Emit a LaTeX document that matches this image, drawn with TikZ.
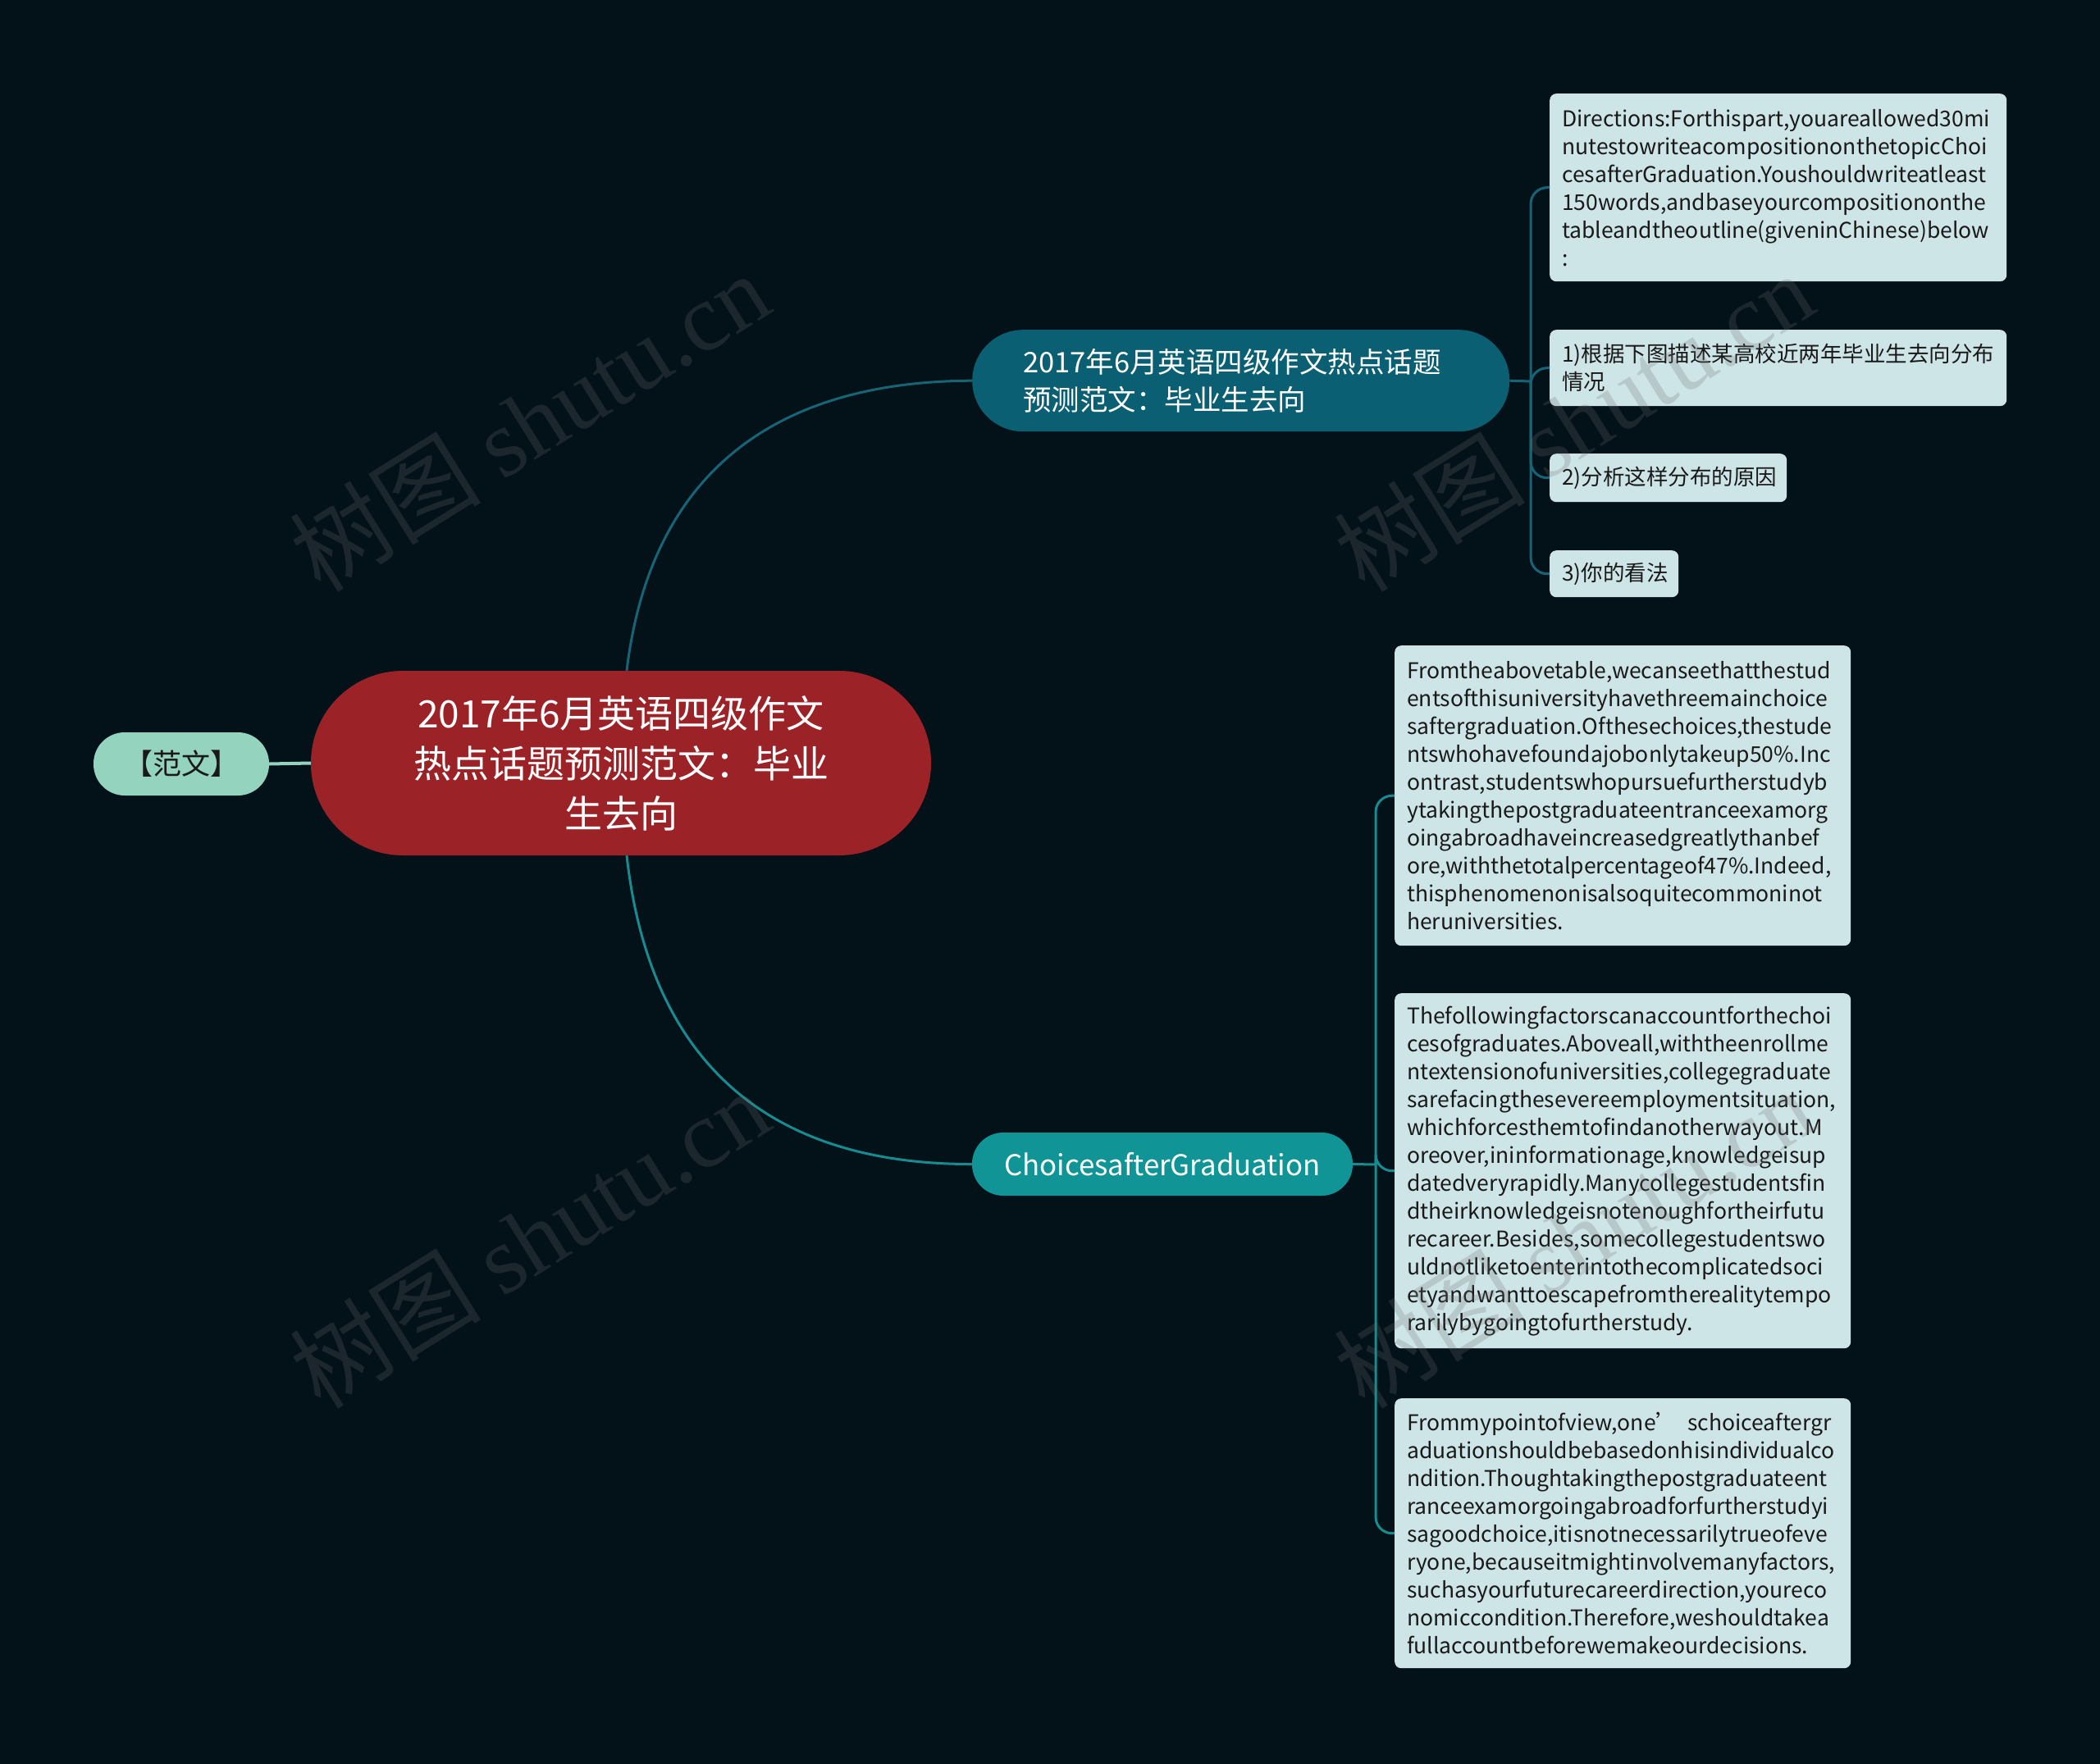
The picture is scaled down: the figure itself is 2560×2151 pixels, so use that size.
\documentclass[tikz,border=0pt]{standalone}
\usepackage{fontspec}
\setmainfont{Noto Sans CJK SC}
\newfontfamily\wmfont{Liberation Serif}
\newfontfamily\wmcjk{Noto Sans CJK SC}
\definecolor{bgc}{RGB}{3,17,25}
\definecolor{rootc}{RGB}{155,34,38}
\definecolor{mintc}{RGB}{148,211,190}
\definecolor{topc}{RGB}{11,95,115}
\definecolor{botc}{RGB}{16,148,150}
\definecolor{leafc}{RGB}{206,229,232}
\definecolor{leaftext}{RGB}{25,25,25}
\definecolor{linetop}{RGB}{22,100,118}
\definecolor{linebot}{RGB}{22,140,145}
\definecolor{wmc}{RGB}{110,110,110}
\tikzset{
  leaf/.style={fill=leafc, rounded corners=8pt, anchor=north west, inner xsep=15pt, inner ysep=0pt,
    align=left, font=\fontsize{26.5}{34}\selectfont, text=leaftext},
  ctop/.style={draw=linetop, line width=3pt},
  cbot/.style={draw=linebot, line width=3pt},
  wm/.style={text=wmc, opacity=0.24, rotate=32, font=\fontsize{117}{117}\selectfont}
}
\begin{document}
\begin{tikzpicture}[x=1pt,y=-1pt]
\fill[bgc] (0,0) rectangle (2560,2151);
\useasboundingbox (0,0) rectangle (2560,2151);

% root
\node[fill=rootc, rounded corners=112pt, minimum width=756pt, minimum height=225pt, inner sep=0pt,
  text=white, align=center, font=\fontsize{46}{61}\selectfont] (root) at (757,930.5)
  {2017年6月英语四级作文\\热点话题预测范文：毕业\\生去向};

% fanwen
\node[fill=mintc, rounded corners=38pt, minimum width=214pt, minimum height=77pt, inner sep=0pt,
  text=leaftext, font=\fontsize{35}{40}\selectfont] (fw) at (221,931.5) {【范文】};

% top branch
\node[fill=topc, rounded corners=62pt, anchor=north west, minimum width=655pt, minimum height=124pt,
  inner xsep=62pt, inner ysep=0pt, text width=531pt, align=left, text=white,
  font=\fontsize{34.5}{46}\selectfont] (tb) at (1185,402)
  {2017年6月英语四级作文热点话题\\预测范文：毕业生去向};

% bottom branch
\node[fill=botc, rounded corners=38pt, minimum width=464pt, minimum height=77pt, inner sep=0pt,
  text=white, font=\fontsize{34.8}{40}\selectfont] (cb) at (1417,1419.5) {ChoicesafterGraduation};

% leaves top
\node[leaf, minimum height=229pt, text width=527pt] (d0) at (1889,114)
  {Directions:Forthispart,youareallowed30mi\\nutestowriteacompositiononthetopicChoi\\cesafterGraduation.Youshouldwriteatleast\\150words,andbaseyourcompositiononthe\\tableandtheoutline(giveninChinese)below\\:};
\node[leaf, minimum height=93pt, text width=527pt] (d1) at (1889,402)
  {1)根据下图描述某高校近两年毕业生去向分布\\情况};
\node[leaf, minimum height=59pt, text width=259pt] (d2) at (1889,553) {2)分析这样分布的原因};
\node[leaf, minimum height=57pt, text width=127pt] (d3) at (1889,671) {3)你的看法};

% leaves bottom
\node[leaf, minimum height=366pt, text width=526pt] (e1) at (1700,787)
  {Fromtheabovetable,wecanseethatthestud\\entsofthisuniversityhavethreemainchoice\\saftergraduation.Ofthesechoices,thestude\\ntswhohavefoundajobonlytakeup50\%.Inc\\ontrast,studentswhopursuefurtherstudyb\\ytakingthepostgraduateentranceexamorg\\oingabroadhaveincreasedgreatlythanbef\\ore,withthetotalpercentageof47\%.Indeed,\\thisphenomenonisalsoquitecommoninot\\heruniversities.};
\node[leaf, minimum height=433pt, text width=526pt] (e2) at (1700,1211)
  {Thefollowingfactorscanaccountforthechoi\\cesofgraduates.Aboveall,withtheenrollme\\ntextensionofuniversities,collegegraduate\\sarefacingthesevereemploymentsituation,\\whichforcesthemtofindanotherwayout.M\\oreover,ininformationage,knowledgeisup\\datedveryrapidly.Manycollegestudentsfin\\dtheirknowledgeisnotenoughfortheirfutu\\recareer.Besides,somecollegestudentswo\\uldnotliketoenterintothecomplicatedsoci\\etyandwanttoescapefromtherealitytempo\\rarilybygoingtofurtherstudy.};
\node[leaf, minimum height=329pt, text width=526pt] (e3) at (1700,1705)
  {Frommypointofview,one’\hspace{12pt}schoiceaftergr\\aduationshouldbebasedonhisindividualco\\ndition.Thoughtakingthepostgraduateent\\ranceexamorgoingabroadforfurtherstudyi\\sagoodchoice,itisnotnecessarilytrueofeve\\ryone,becauseitmightinvolvemanyfactors,\\suchasyourfuturecareerdirection,youreco\\nomiccondition.Therefore,weshouldtakea\\fullaccountbeforewemakeourdecisions.};

% connectors
\draw[draw=mintc, line width=4pt] (fw.east) -- (root.west);
\draw[ctop] ([xshift=7pt]root.north) .. controls (790,600) and (920,465) .. (tb.west);
\draw[cbot] ([xshift=7pt]root.south) .. controls (790,1278) and (920,1420) .. (cb.west);
\coordinate (s1) at (1866,465);
\coordinate (s2) at (1677,1420);
\draw[ctop] (tb.east) -- (s1);
\foreach \n in {d0,d1,d2,d3} \draw[ctop, rounded corners=20pt] (s1) |- (\n.west);
\draw[cbot] (cb.east) -- (s2);
\foreach \n in {e1,e2,e3} \draw[cbot, rounded corners=20pt] (s2) |- (\n.west);

% watermarks
\node[wm] (w1) at (645,514) {\wmcjk 树图\ \wmfont shutu.cn};
\node[wm] (w2) at (1918,514) {\wmcjk 树图\ \wmfont shutu.cn};
\node[wm] (w3) at (645,1510) {\wmcjk 树图\ \wmfont shutu.cn};
\node[wm] (w4) at (1918,1510) {\wmcjk 树图\ \wmfont shutu.cn};
\end{tikzpicture}
\end{document}
